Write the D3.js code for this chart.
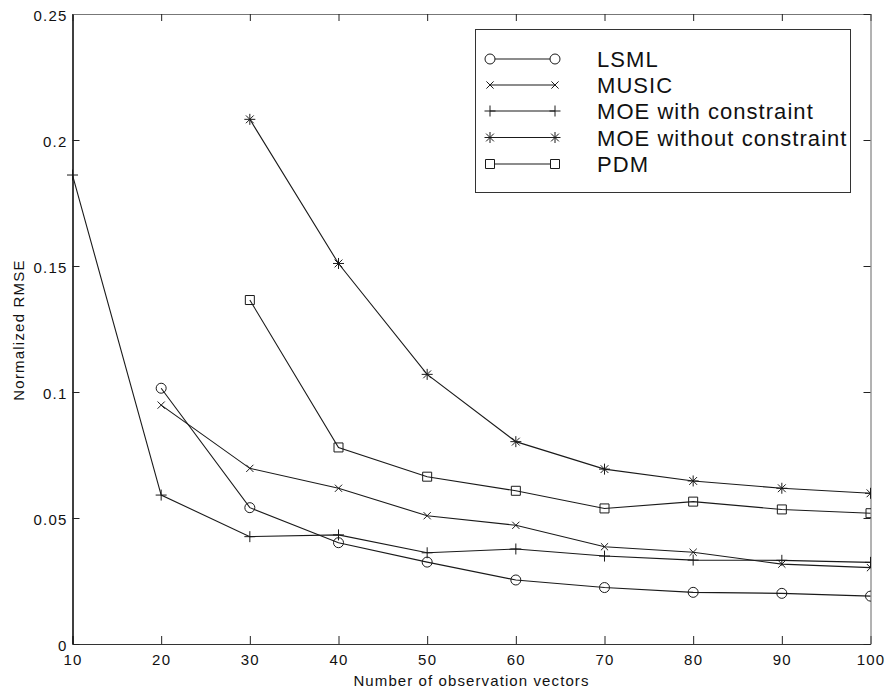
<!DOCTYPE html>
<html><head><meta charset="utf-8">
<script src="https://cdn.jsdelivr.net/npm/d3@7"></script>
<style>
body{margin:0;background:#fff;}
text{font-family:"Liberation Sans",Arial,Helvetica,sans-serif;fill:#111;}
</style></head>
<body><svg id="c" width="886" height="692"></svg>
<script>
const xValues = [10,20,30,40,50,60,70,80,90,100];
const lsml       = [null,0.1015,0.0541,0.0402,0.0325,0.0254,0.0224,0.0205,0.0201,0.0190];
const music      = [null,0.0948,0.0697,0.0618,0.0509,0.0471,0.0386,0.0364,0.0317,0.0303];
const moeWith    = [0.1861,0.0591,0.0426,0.0433,0.0362,0.0377,0.0349,0.0333,0.0332,0.0324];
const moeWithout = [null,null,0.2082,0.1510,0.1070,0.0803,0.0694,0.0647,0.0618,0.0598];
const pdm        = [null,null,0.1365,0.0780,0.0664,0.0608,0.0538,0.0565,0.0534,0.0519];
const seriesNames = ["LSML","MUSIC","MOE with constraint","MOE without constraint","PDM"];
const xTicks = [10,20,30,40,50,60,70,80,90,100];
const yTicks = [0,0.05,0.1,0.15,0.2,0.25];

const series = [
  {name:seriesNames[0], values:lsml, marker:"circle"},
  {name:seriesNames[1], values:music, marker:"x"},
  {name:seriesNames[2], values:moeWith, marker:"plus"},
  {name:seriesNames[3], values:moeWithout, marker:"star"},
  {name:seriesNames[4], values:pdm, marker:"square"}
];

const L=72.5, R=870.5, T=14, B=644;
const svg = d3.select("#c");
const x = d3.scaleLinear().domain([10,100]).range([L,R]);
const y = d3.scaleLinear().domain([0,0.25]).range([B,T]);

function markerPath(type){
  switch(type){
    case "circle": { const r=5; return `M${-r},0A${r},${r} 0 1,0 ${r},0A${r},${r} 0 1,0 ${-r},0Z`; }
    case "x": { const s=3.6; return `M${-s},${-s}L${s},${s}M${-s},${s}L${s},${-s}`; }
    case "plus": { const s=5.5; return `M${-s},0L${s},0M0,${-s}L0,${s}`; }
    case "star": { const s=5.5, d=3.9; return `M${-s},0L${s},0M0,${-s}L0,${s}M${-d},${-d}L${d},${d}M${-d},${d}L${d},${-d}`; }
    case "square": { const s=4.5; return `M${-s},${-s}H${s}V${s}H${-s}Z`; }
  }
}

svg.append("defs").append("clipPath").attr("id","clip")
  .append("rect").attr("x",0).attr("y",0).attr("width",R+0.5).attr("height",692);

// axes
const fontStyle = g => g.selectAll("text").style("font-size","15px").style("letter-spacing","1.2px").attr("fill","#111");
const gx = svg.append("g").attr("transform",`translate(0,${B})`)
  .call(d3.axisBottom(x).tickValues(xTicks).tickFormat(d=>String(d)).tickSize(-8).tickPadding(10).tickSizeOuter(0));
gx.call(fontStyle);
gx.select(".domain").attr("stroke","#333");
const gy = svg.append("g").attr("transform",`translate(${L},0)`)
  .call(d3.axisLeft(y).tickValues(yTicks).tickFormat(d=>String(d)).tickSize(-7).tickPadding(5).tickSizeOuter(0));
gy.call(fontStyle);
gy.select(".domain").attr("stroke","#000").attr("stroke-width",1.5);
gy.selectAll("text").attr("dy","0.4em");
const gt = svg.append("g").attr("transform",`translate(0,${T})`)
  .call(d3.axisTop(x).tickValues(xTicks).tickFormat("").tickSize(-7).tickSizeOuter(0));
gt.select(".domain").attr("stroke","#777");
const gr = svg.append("g").attr("transform",`translate(${R},0)`)
  .call(d3.axisRight(y).tickValues(yTicks).tickFormat("").tickSize(-7).tickSizeOuter(0));
gr.select(".domain").attr("stroke","#666");
svg.selectAll(".tick line").attr("stroke","#222");

// labels
svg.append("text").attr("x",(L+R)/2).attr("y",686).attr("text-anchor","middle")
  .style("font-size","15px").style("letter-spacing","1.1px").text("Number of observation vectors");
svg.append("text").attr("transform",`translate(24,330) rotate(-90)`).attr("text-anchor","middle")
  .style("font-size","15px").style("letter-spacing","1.2px").text("Normalized RMSE");

// series
const line = d3.line().defined(d=>d.v!=null).x(d=>x(d.x)).y(d=>y(d.v));
const plot = svg.append("g");
series.forEach(s=>{
  const pts = xValues.map((xv,i)=>({x:xv,v:s.values[i]}));
  plot.append("path").datum(pts).attr("d",line).attr("fill","none").attr("stroke","#1a1a1a").attr("stroke-width",1.1);
  plot.append("g").attr("clip-path","url(#clip)").selectAll("path").data(pts.filter(d=>d.v!=null)).join("path")
    .attr("transform",d=>`translate(${x(d.x)},${y(d.v)})`)
    .attr("d",markerPath(s.marker)).attr("fill","none").attr("stroke","#1a1a1a").attr("stroke-width",1);
});

// legend
const lg = svg.append("g");
lg.append("rect").attr("x",475.5).attr("y",29.5).attr("width",375).attr("height",163)
  .attr("fill","#fff").attr("stroke","#333").attr("stroke-width",1);
const rowY = [59,85,111,137.5,164];
series.forEach((s,i)=>{
  const yy=rowY[i];
  lg.append("line").attr("x1",490).attr("x2",555).attr("y1",yy).attr("y2",yy).attr("stroke","#1a1a1a").attr("stroke-width",1.1);
  [490,555].forEach(xx=>lg.append("path").attr("transform",`translate(${xx},${yy})`).attr("d",markerPath(s.marker))
    .attr("fill","#fff").attr("stroke","#1a1a1a").attr("stroke-width",1));
  lg.append("text").attr("x",597).attr("y",yy+8).style("font-size","22px").style("letter-spacing","1.05px").text(s.name);
});
</script></body></html>
